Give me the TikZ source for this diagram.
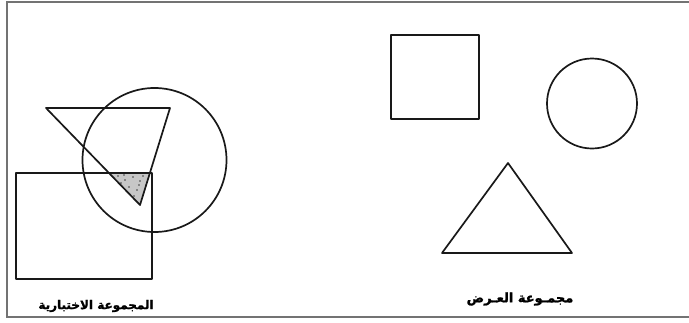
\documentclass[tikz,border=0pt]{standalone}
\usepackage{fontspec}
\newfontfamily\arabicfont[Script=Arabic,BoldFont={DejaVu Sans Bold},BoldFeatures={FakeBold=1.5}]{DejaVu Sans}
\TeXXeTstate=1
\begin{document}
\begin{tikzpicture}[x=1pt,y=-1pt,
  shape line/.style={draw=black!90,line width=1.7pt,line join=round},
  frame line/.style={draw=black!55,line width=2.2pt},
  label text/.style={font=\arabicfont\bfseries\fontsize{12}{14}\selectfont,inner sep=0pt}]
\useasboundingbox (0,0) rectangle (689,322);
% frame
\coordinate (ftl) at (7,2);
\coordinate (ftr) at (689,2);
\coordinate (fbl) at (7,317);
\coordinate (fbr) at (689,317);
\draw[frame line] (ftr) -- (ftl) -- (fbl) -- (fbr);
% left group
\coordinate (t1) at (46,108);
\coordinate (t2) at (170,108);
\coordinate (t3) at (140,205);
\coordinate (s1) at (108.6,172);
\coordinate (s2) at (150.3,172);
\fill[black!22] (s1) -- (s2) -- (t3) -- cycle;
\foreach \p in {(118,176),(125,180),(133,177),(140,181),(129,187),(137,190),(143,176),(124,175),(134,196),(146,185),(121,183),(139,185)}
  \fill[black!75] \p circle (0.9);
\node[shape line,circle,minimum size=144pt,inner sep=0pt] (bigc) at (154.5,160) {};
\draw[shape line] (t1) -- (t2) -- (t3) -- cycle;
\node[shape line,rectangle,minimum width=136pt,minimum height=106pt,inner sep=0pt,anchor=north west] (rect) at (15,172) {};
% right group
\node[shape line,rectangle,minimum width=88pt,minimum height=84pt,inner sep=0pt,anchor=north west] (sq) at (390,34) {};
\node[shape line,circle,minimum size=90pt,inner sep=0pt] (rc) at (592,103.5) {};
\coordinate (r1) at (442,253);
\coordinate (r2) at (572,253);
\coordinate (r3) at (508,163);
\draw[shape line] (r1) -- (r2) -- (r3) -- cycle;
% labels
\node[label text] (ll) at (96,306) {\beginR المجموعة الاختبارية\endR};
\node[label text,font=\arabicfont\bfseries\fontsize{13}{15}\selectfont] (rl) at (520,299) {\beginR مجمـوعة العـرض\endR};
\end{tikzpicture}
\end{document}
